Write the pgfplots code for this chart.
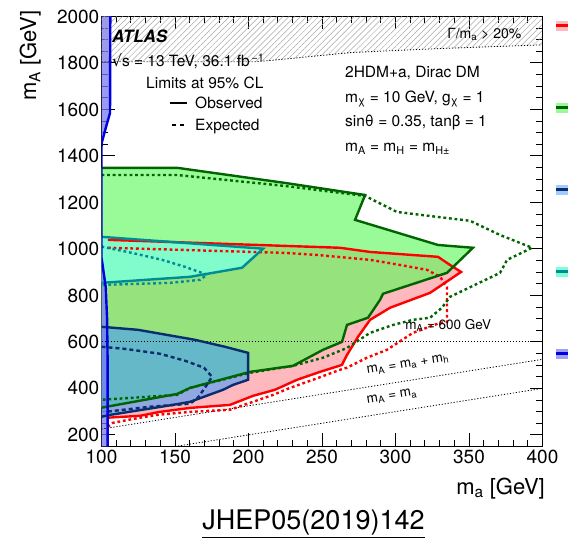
\documentclass[border=0pt]{standalone}
\usepackage{fontspec}
\setmainfont{TeX Gyre Heros}
\newfontfamily\djv{DejaVu Sans}
\usepackage{pgfplots}
\pgfplotsset{compat=1.18}
\usetikzlibrary{patterns.meta}

\definecolor{pinkfill}{RGB}{255,185,190}
\definecolor{redline}{RGB}{255,0,0}
\definecolor{greenfill}{RGB}{152,251,152}
\definecolor{overlapfill}{RGB}{150,226,125}
\definecolor{greenline}{RGB}{0,100,0}
\definecolor{cyanfill}{RGB}{127,255,212}
\definecolor{cyanline}{RGB}{0,140,150}
\definecolor{navyfill}{RGB}{64,155,255}
\definecolor{navyline}{RGB}{10,45,110}
\definecolor{bluefill}{RGB}{120,120,240}
\definecolor{blueline}{RGB}{0,0,220}

\newcommand{\txt}{\fontsize{15.5bp}{18bp}\selectfont}

\begin{document}
\begin{tikzpicture}[x=1bp,y=1bp]
\useasboundingbox (0,0) rectangle (568,543);
\begin{axis}[
  at={(101.5bp,96.5bp)}, anchor=south west,
  scale only axis, width=441bp, height=430bp,
  xmin=100, xmax=400, ymin=150, ymax=2000,
  xtick={100,150,...,400}, minor x tick num=4,
  ytick={200,400,...,2000}, minor y tick num=3,
  tick align=inside,
  major tick length=13bp, minor tick length=6.5bp,
  axis line style={line width=1.2bp},
  every tick/.style={black, line width=1bp},
  /pgf/number format/assume math mode=true,
  /pgf/number format/1000 sep={},
  ticklabel style={font=\fontsize{19bp}{22bp}\selectfont},
  yticklabel style={inner xsep=2bp},
  xlabel={m\textsubscript{a} [GeV]},
  ylabel={m\textsubscript{A} [GeV]},
  xlabel style={at={(axis description cs:1.0057,-0.073)}, anchor=north east,
    inner sep=0pt, font=\fontsize{22bp}{26bp}\selectfont},
  ylabel style={at={(axis description cs:-0.137,1.015)}, anchor=south east,
    inner sep=0pt, font=\fontsize{22bp}{26bp}\selectfont},
  clip=true,
]

% ---------- filled exclusion regions ----------
% red observed region
\addplot[draw=none, fill=pinkfill] coordinates {
  (104.4,1039) (262.2,1005) (282.7,987) (328.9,966) (337.1,931) (344.6,901)
  (323.5,811) (296.3,747) (282.7,695) (274.5,622) (267,544) (263.6,501)
  (248.6,471) (233,437) (218,394) (203.1,368) (187.4,329) (160.2,316)
  (139.8,299) (126.2,282) (104.4,274)} -- cycle;

% green observed region
\addplot[draw=none, fill=greenfill] coordinates {
  (100,1349) (151.4,1349) (224.8,1284) (279.3,1232) (272.5,1125) (328.9,1017)
  (352.7,1005) (335,897) (291.5,807) (289.5,781) (281.3,704) (267,673)
  (263.6,600) (250.7,566) (230.3,497) (201,471) (160.2,402) (151.4,376)
  (100,317)} -- cycle;

% part excluded by both the red and the green analyses
\addplot[draw=none, fill=overlapfill] coordinates {
  (104.4,1039) (262.2,1005) (282.7,987) (328.9,966) (337.1,931) (338.6,925)
  (335,897) (291.5,807) (289.5,781) (281.3,704) (267,673) (263.6,600)
  (250.7,566) (230.3,497) (201,471) (160.2,402) (151.4,376) (104.4,322)} -- cycle;

% cyan observed region
\addplot[draw=none, fill=cyanfill, fill opacity=0.9] coordinates {
  (100,1052) (209.9,1001) (195.6,919) (160.2,880) (100,854)} -- cycle;

% navy observed region
\addplot[draw=none, fill=navyfill, fill opacity=0.58] coordinates {
  (100,665) (124.8,652) (163.6,609) (184,579) (199.7,553) (199.7,437)
  (189.5,415) (182.7,394) (160.2,342) (148.6,329) (105.8,286) (100,278)} -- cycle;

% blue observed region along the left edge
\addplot[draw=none, fill=bluefill, fill opacity=0.75] coordinates {
  (100,150) (104.2,150) (104.2,500) (103.8,700) (102.9,835) (100.3,950)
  (100,960) (100,1440) (100.3,1460) (103.1,1525) (105.8,1585) (106,2000)
  (100,2000)} -- cycle;

% width / mass > 20 % region
\addplot[draw=none, pattern={Lines[angle=45,distance=4.2bp,line width=0.5bp]},
  pattern color=black!35] coordinates {
  (100,1805) (205,1805) (230,1820) (270,1845) (330,1862) (400,1878)
  (400,2000) (100,2000)} -- cycle;
\addplot[black, line width=0.8bp, dash pattern=on 1.2bp off 1.8bp] coordinates {
  (100,1805) (205,1805) (230,1820) (270,1845) (330,1862) (400,1878)};

% kinematic reference lines
\addplot[black, line width=0.8bp, dash pattern=on 1.2bp off 1.8bp] coordinates {(100,600) (400,600)};
\addplot[black, line width=0.8bp, dash pattern=on 1.2bp off 1.8bp] coordinates {(100,225) (400,525)};
\addplot[black, line width=0.8bp, dash pattern=on 1.2bp off 1.8bp] coordinates {(150,150) (400,400)};

% ---------- contour lines ----------
% red expected
\addplot[redline, line width=2.4bp, dash pattern=on 2.8bp off 2.8bp] coordinates {
  (104.4,1005) (224.8,983) (246.6,974) (282.7,953) (303.1,931) (321.4,910)
  (330.3,880) (335,837) (335,686) (330.3,682) (311.9,639) (294.2,566)
  (280.6,532) (267,489) (262.2,480) (243.9,437) (228.2,402) (216.7,372)
  (187.4,308) (160.2,299) (137.8,286) (126.2,274) (107.8,252) (104.4,235)};
% red observed
\addplot[redline, line width=2.4bp] coordinates {
  (104.4,1039) (262.2,1005) (282.7,987) (328.9,966) (337.1,931) (344.6,901)
  (323.5,811) (296.3,747) (282.7,695) (274.5,622) (267,544) (263.6,501)
  (248.6,471) (233,437) (218,394) (203.1,368) (187.4,329) (160.2,316)
  (139.8,299) (126.2,282) (104.4,274)};

% green expected
\addplot[greenline, line width=2.4bp, dash pattern=on 2.8bp off 2.8bp] coordinates {
  (100,1318) (151.4,1318) (224.8,1271) (279.3,1228) (301,1159) (328.2,1138)
  (350.7,1121) (371.1,1060) (392.9,1005) (375.9,953) (371.1,897) (337.1,794)
  (331.6,747) (323.5,704) (311.9,695) (298.3,673) (282.7,639) (267,574)
  (250.7,532) (230.3,497) (201,467) (160.2,402) (151.4,372) (100,351)};
% green observed
\addplot[greenline, line width=2.4bp] coordinates {
  (100,1349) (151.4,1349) (224.8,1284) (279.3,1232) (272.5,1125) (328.9,1017)
  (352.7,1005) (335,897) (291.5,807) (289.5,781) (281.3,704) (267,673)
  (263.6,600) (250.7,566) (230.3,497) (201,471) (160.2,402) (151.4,376)
  (100,317)};

% cyan expected
\addplot[cyanline, line width=2.4bp, dash pattern=on 2.8bp off 2.8bp] coordinates {
  (100,1010) (120.7,983) (141.2,953) (156.8,923) (171.8,889) (167,867)
  (146.6,854) (100,845)};
% cyan observed
\addplot[cyanline, line width=2.4bp] coordinates {
  (100,1052) (209.9,1001) (195.6,919) (160.2,880) (100,854)};

% navy expected
\addplot[navyline, line width=2.4bp, dash pattern=on 4bp off 3bp] coordinates {
  (100,579) (116,570) (139.8,549) (156.8,519) (169.7,489) (175.2,450)
  (170.4,403) (165.6,360) (160.2,334) (133,321) (102.4,299)};
% navy observed
\addplot[navyline, line width=2.4bp] coordinates {
  (100,665) (124.8,652) (163.6,609) (184,579) (199.7,553) (199.7,437)
  (189.5,415) (182.7,394) (160.2,342) (148.6,329) (105.8,286) (100,278)};

% blue observed
\addplot[blueline, line width=2.4bp] coordinates {
  (104.2,150) (104.2,500) (103.8,700) (102.9,835) (100.3,950) (100,960)
  (100,1440) (100.3,1460) (103.1,1525) (105.8,1585) (106,2000)};

% ---------- text ----------
\node[anchor=base west, inner sep=0pt, font=\bfseries\itshape\fontsize{17bp}{20bp}\selectfont]
  at (axis cs:107.1,1890) {ATLAS};
\node[anchor=base west, inner sep=0pt, font=\txt]
  at (axis cs:107.1,1785) {{\djv √}s = 13 TeV, 36.1 fb\textsuperscript{\,−1}};
\node[anchor=base west, inner sep=0pt, font=\txt]
  at (axis cs:130.3,1690) {Limits at 95\% CL};
\node[anchor=base west, inner sep=0pt, font=\txt]
  at (axis cs:163.6,1604) {Observed};
\node[anchor=base west, inner sep=0pt, font=\txt]
  at (axis cs:163.6,1510) {Expected};
\draw[black, line width=2bp] (axis cs:146.6,1628) -- (axis cs:158.2,1628);
\draw[black, line width=2bp, dash pattern=on 4bp off 4bp] (axis cs:148,1533) -- (axis cs:158.2,1533);

\node[anchor=base west, inner sep=0pt, font=\txt]
  at (axis cs:265.6,1737) {2HDM+a, Dirac DM};
\node[anchor=base west, inner sep=0pt, font=\txt]
  at (axis cs:265.6,1632) {m\textsubscript{χ} = 10 GeV, g\textsubscript{χ} = 1};
\node[anchor=base west, inner sep=0pt, font=\txt]
  at (axis cs:265.6,1526) {sinθ = 0.35, tanβ = 1};
\node[anchor=base west, inner sep=0pt, font=\txt]
  at (axis cs:265.6,1421) {m\textsubscript{A} = m\textsubscript{H} = m\textsubscript{H±}};

\node[anchor=base east, inner sep=0pt, font=\fontsize{14bp}{16bp}\selectfont]
  at (axis cs:385.7,1907) {Γ/m\textsubscript{a} > 20\%};
\node[anchor=base west, inner sep=0pt, font=\fontsize{13.5bp}{16bp}\selectfont]
  at (axis cs:306.5,652) {m\textsubscript{A} = 600 GeV};
\node[rotate=9, inner sep=0pt, font=\fontsize{13.5bp}{16bp}\selectfont]
  at (axis cs:308.5,501) {m\textsubscript{A} = m\textsubscript{a} + m\textsubscript{h}};
\node[rotate=9, inner sep=0pt, font=\fontsize{13.5bp}{16bp}\selectfont]
  at (axis cs:297.6,364) {m\textsubscript{A} = m\textsubscript{a}};
\end{axis}

% legend keys at the right edge
\foreach \y/\band/\col in {517/pinkfill/redline, 435/greenfill/greenline,
    353/navyfill!50/navyline, 271/cyanfill/cyanline, 189/bluefill!70/blueline}{
  \fill[\band] (556,\y-5) rectangle (568,\y+5);
  \draw[\col, line width=3bp] (556,\y) -- (568,\y);
}

\node[anchor=base, inner sep=0pt, font=\fontsize{27bp}{30bp}\selectfont]
  at (313.5,13) {\underline{JHEP05(2019)142}};
\end{tikzpicture}
\end{document}
